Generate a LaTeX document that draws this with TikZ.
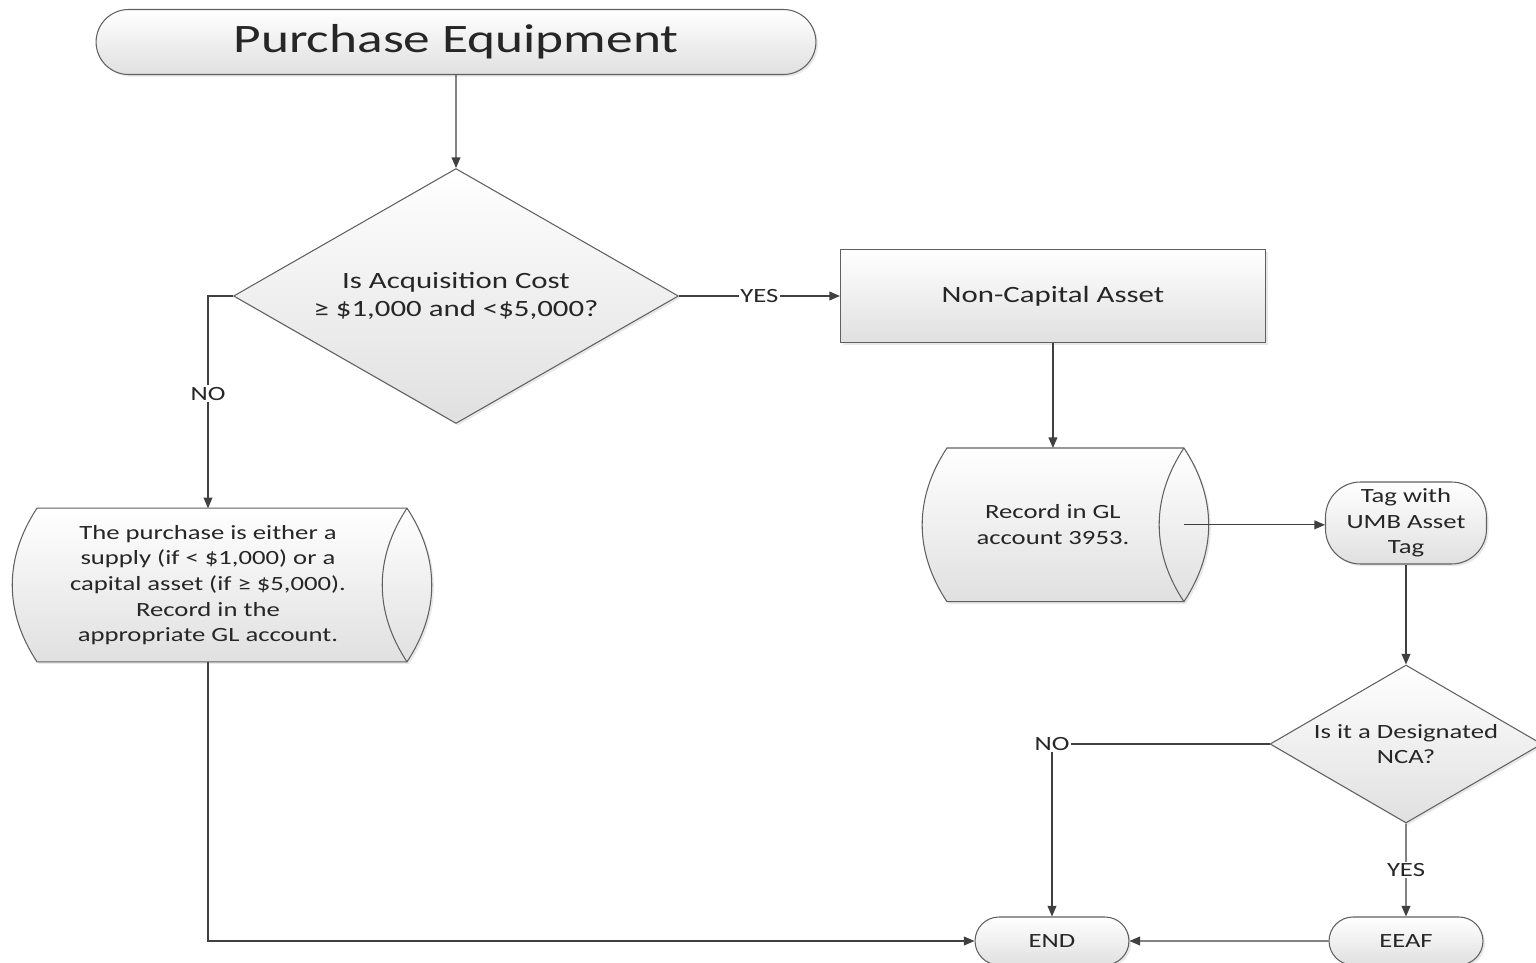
\documentclass[tikz,border=0pt]{standalone}
\usepackage{fontspec}
\setmainfont{Carlito}[FakeStretch=1.32]
\usetikzlibrary{
  arrows.meta,
  positioning,
  shapes.geometric,
  shapes.misc,
  calc,
  shadows,
  backgrounds
}
\definecolor{FlowText}{HTML}{262626}
\definecolor{FlowLine}{HTML}{404040}
\definecolor{FlowEdge}{HTML}{606060}
\definecolor{FlowFill}{HTML}{E0E0E0}

% stored-data outline round a text node: node, left reach, right reach
\newcommand{\storeddata}[3]{%
  \begin{pgfonlayer}{background}
  \path[storeshape]
    ($(#1.north)+(-#2,0)$) coordinate (#1-nw) -- ($(#1.north)+(#3,0)$) coordinate (#1-ne)
    .. controls +(33,50) and +(33,-50) .. ($(#1.south)+(#3,0)$) coordinate (#1-se)
    -- ($(#1.south)+(-#2,0)$) coordinate (#1-sw)
    .. controls +(-33,-50) and +(-33,50) .. (#1-nw) -- cycle;
  \draw[storeline] (#1-ne) .. controls +(-33,50) and +(-33,-50) .. (#1-se);
  \end{pgfonlayer}
  \coordinate (#1-r) at ($(#1)+(#3,0)$);
}

\begin{document}
\begin{tikzpicture}[
x=0.02cm, y=-0.02cm,
font=\fontsize{11.5}{14.6}\selectfont,
>={Triangle[length=6pt,width=5pt]},
every node/.style={text=FlowText},
boxfill/.style={
draw=FlowEdge,
line width=0.6pt,
top color=white,
bottom color=FlowFill,
drop shadow={shadow xshift=1.2pt, shadow yshift=-1.2pt, opacity=0.18}
},
terminal/.style={
boxfill,
rounded rectangle,
minimum width=3.22cm,
minimum height=0.96cm,
inner sep=2pt
},
decision/.style={
boxfill,
diamond,
align=center,
inner sep=0pt,
font=\fontsize{13.3}{15.9}\selectfont
},
process/.style={
boxfill,
rectangle,
minimum width=8.5cm,
minimum height=1.86cm,
font=\fontsize{13.3}{15.9}\selectfont
},
storetext/.style={
align=center,
minimum height=3.06cm,
inner sep=0pt
},
storeshape/.style={boxfill},
storeline/.style={draw=FlowEdge, line width=0.6pt},
flow/.style={->, draw=FlowLine, line width=0.7pt},
lbl/.style={fill=white, inner sep=1pt}
]
\useasboundingbox (0,0) rectangle (1536,963);

% Main branch
\node[terminal, minimum width=14.54cm, minimum height=1.3cm,
font=\fontsize{23}{27}\selectfont] (start) at (456,42) {Purchase Equipment};
\node[decision, below=1.86cm of start, aspect=1.745, minimum width=8.9cm, minimum height=5.1cm] (cost)
{Is Acquisition Cost\\≥ \$1,000 and <\$5,000?};
\node[process, right=3.22cm of cost] (noncap) {Non-Capital Asset};

\node[storetext, below=2.1cm of noncap] (record) {Record in GL\\account 3953.};
\storeddata{record}{106}{131}

\node[boxfill, rectangle, rounded corners=0.7cm, minimum width=3.22cm, minimum height=1.64cm,
inner sep=1pt, align=center] (tag) at (1406,523) {Tag with\\UMB Asset\\Tag};
\node[decision, aspect=1.72, minimum width=5.44cm, minimum height=3.16cm,
font=\fontsize{11.5}{14.6}\selectfont] (nca) at (1406,744) {Is it a Designated\\NCA?};
\node[terminal] (eeaf) at (1406,941) {EEAF};
\node[terminal] (finish) at (1052,941) {END};

% Left branch
\node[storetext] (buy) at (208,585)
{The purchase is either a\\supply (if < \$1,000) or a\\capital asset (if ≥ \$5,000).\\Record in the\\appropriate GL account.};
\storeddata{buy}{171}{199}

% Connectors
\draw[flow] (start) -- (cost);
\draw[flow] (cost) -- node[lbl] {YES} (noncap);
\draw[flow] (cost.west) -| node[lbl, pos=0.73] {NO} (buy.north);
\draw[flow] (noncap) -- (record);
\draw[flow] (record-r) -- (record-r -| tag.west);
\draw[flow] (tag) -- (nca);
\draw[flow] (nca) -- node[lbl] {YES} (eeaf);
\draw[flow] (nca.west) -| node[lbl, pos=0.5] {NO} (finish.north);
\draw[flow] (eeaf) -- (finish);
\draw[flow] (buy.south) |- (finish.west);

\end{tikzpicture}
\end{document}
